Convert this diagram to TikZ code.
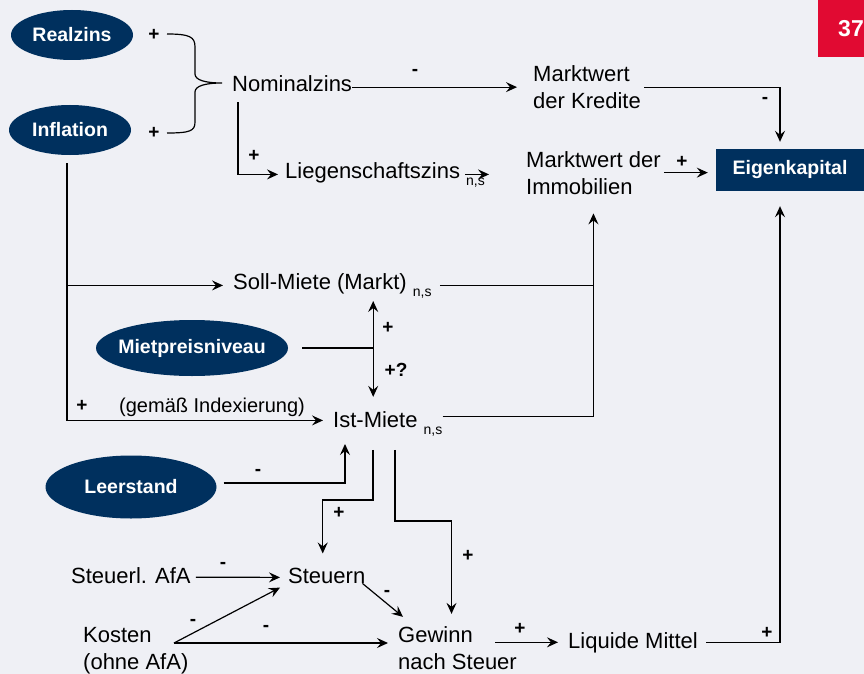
\documentclass[tikz,border=0pt]{standalone}
\usepackage{fontspec}
\setmainfont{Liberation Sans}
\usetikzlibrary{shapes.geometric,arrows.meta}
\definecolor{navy}{HTML}{00305E}
\definecolor{bgc}{HTML}{EFF0F5}
\definecolor{slidered}{HTML}{E10A32}
\newcommand{\nsub}{\raisebox{-7pt}{\fontsize{14}{16}\selectfont n,s}}
\newcommand{\otx}[1]{\makebox[0pt]{#1}}

\begin{document}
\begin{tikzpicture}[x=1pt,y=-1pt,
  line/.style={line width=1.2pt},
  arr/.style={line, -{Stealth[length=11pt,width=10pt,inset=4pt]}},
  lbl/.style={anchor=base west, inner sep=0pt, align=left, font=\fontsize{22}{27}\selectfont},
  oval/.style={ellipse, fill=navy, text=white, inner sep=0pt, font=\bfseries\fontsize{19.5}{22}\selectfont},
  sgn/.style={inner sep=0pt, font=\bfseries\fontsize{19}{22}\selectfont},
  ekbox/.style={fill=navy, text=white, minimum width=148pt, minimum height=42pt, font=\bfseries\fontsize{19.5}{22}\selectfont}]
\fill[bgc] (0,0) rectangle (864,674);
\useasboundingbox (0,0) rectangle (864,674);
\fill[slidered] (818,0) rectangle (866,57);
\node[text=white, font=\bfseries\fontsize{23}{26}\selectfont] (pg) at (851,29) {37};

\node[oval, minimum width=122pt, minimum height=50pt] (rz) at (72,35) {\otx{Realzins}};
\node[oval, minimum width=122pt, minimum height=50pt] (inf) at (70,130) {\otx{Inflation}};
\node[oval, minimum width=192pt, minimum height=56pt] (mpn) at (192,348) {\otx{Mietpreisniveau}};
\node[oval, minimum width=171pt, minimum height=63pt] (leer) at (131,487) {\otx{Leerstand}};
\node[ekbox] (ek) at (790,170) {Eigenkapital};

\node[lbl] (nom) at (232,92) {Nominalzins};
\node[lbl] (kred) at (533,109) {Marktwert\\der Kredite};
\node[lbl] (lieg) at (285,178) {Liegenschaftszins \nsub};
\node[lbl] (immo) at (526,194) {Marktwert der\\Immobilien};
\node[lbl] (soll) at (233,289) {Soll-Miete (Markt) \nsub};
\node[lbl] (ist) at (333,427) {Ist-Miete \nsub};
\node[lbl, font=\fontsize{20}{24}\selectfont] (idx) at (119,412) {(gemäß Indexierung)};
\node[lbl] (afa) at (71,583) {Steuerl. AfA};
\node[lbl] (steu) at (288,583) {Steuern};
\node[lbl] (kost) at (83,669) {Kosten\\(ohne AfA)};
\node[lbl] (gew) at (398,669) {Gewinn\\nach Steuer};
\node[lbl] (liq) at (568,648) {Liquide Mittel};

\node[sgn] (p1) at (154,35) {+};
\node[sgn] (p2) at (154,133) {+};
\node[sgn] (m1) at (415,72) {-};
\node[sgn] (m2) at (765,100) {-};
\node[sgn] (p3) at (254,156) {+};
\node[sgn] (p4) at (682,162) {+};
\node[sgn] (p5) at (388,328) {+};
\node[sgn] (p6) at (396,370) {+?};
\node[sgn] (p7) at (82,406) {+};
\node[sgn] (m3) at (258,472) {-};
\node[sgn] (p8) at (339,513) {+};
\node[sgn] (p9) at (468,556) {+};
\node[sgn] (m4) at (223,565) {-};
\node[sgn] (m5) at (387,593) {-};
\node[sgn] (m6) at (193,622) {-};
\node[sgn] (m7) at (266,628) {-};
\node[sgn] (p10) at (520,629) {+};
\node[sgn] (p11) at (767,633) {+};

\coordinate (mj) at ([xshift=85]mpn.east);
\coordinate (kk) at ([shift={(91,-26)}]kost.base west);

\draw[line] (167,34) .. controls (190,34) and (195,37) .. (195,47) -- (195,74)
  .. controls (195,80) and (205,83) .. (222,83) .. controls (205,83) and (195,86) .. (195,92)
  -- (195,122) .. controls (195,131) and (190,133) .. (167,133);

\draw[arr, shorten >=16pt] ([yshift=-3]nom.east) -- ([yshift=-3]nom.east -| kred.west);
\draw[arr, shorten >=7pt] ([xshift=3]kred.east) -| ([xshift=-10]ek.north);
\draw[arr, shorten >=7pt] ([shift={(6,10)}]nom.south west) |- (lieg.west);
\draw[arr, shorten >=17pt] ([xshift=-20]lieg.east) -- ([xshift=-20]lieg.east -| immo.west);
\draw[arr, shorten >=8pt] ([xshift=3]immo.east) -- (immo.east -| ek.west);

\draw[arr, shorten >=10pt] ([shift={(-3,8)}]inf.south) |- (soll.west);
\draw[arr, shorten >=10pt] ([shift={(-3,8)}]inf.south) |- ([yshift=3]ist.west);
\draw[arr, shorten >=19pt] ([xshift=8]soll.east) -| (immo.south);
\draw[line] ([yshift=7]ist.east) -| (immo.south |- soll.east);

\draw[line] ([xshift=14]mpn.east) -- (mj);
\draw[arr, shorten >=3pt] (mj) -- (mj |- soll.south);
\draw[arr, shorten >=14pt] (mj) -- (mj |- ist.north);

\draw[arr, shorten >=8pt] ([shift={(7,-4)}]leer.east) -| ([xshift=12]ist.south west);
\draw[arr, shorten >=14pt] (ist.south west) ++(40,14) -- ++(0,50) -| ([xshift=-4]steu.north);
\draw[arr, shorten >=12pt] (ist.south west) ++(62,14) -- ++(0,71) -| ([xshift=-6]gew.north);

\draw[arr, shorten <=5pt, shorten >=8pt] ([yshift=-2]afa.east) -- ([yshift=-2]steu.west);
\draw[arr, shorten >=9pt] (kk) -- (steu.south west);
\draw[arr, shorten >=10pt] (kk) -- (kk -| gew.west);
\draw[arr] ([xshift=-3]steu.south east) -- ([shift={(5,-9)}]gew.north west);
\draw[arr, shorten >=10pt] ([xshift=97]gew.base west |- liq.west) -- (liq.west);
\draw[arr, shorten >=15pt] ([xshift=8]liq.east) -| ([xshift=-10]ek.south);
\end{tikzpicture}
\end{document}
